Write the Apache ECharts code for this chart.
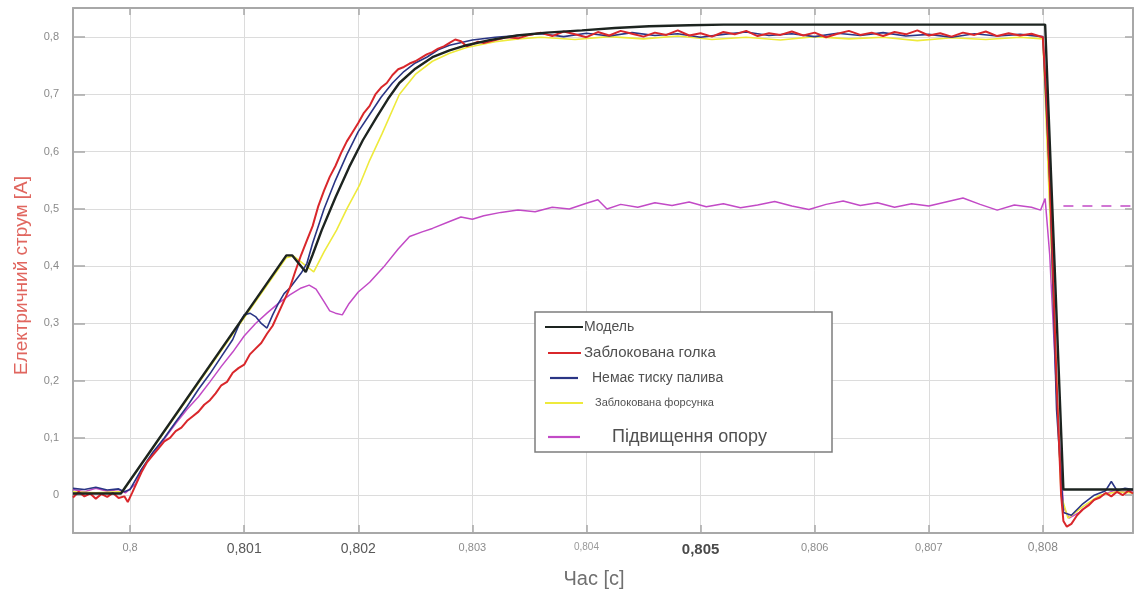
<!DOCTYPE html>
<html><head><meta charset="utf-8">
<script src="https://cdn.jsdelivr.net/npm/echarts@6/dist/echarts.min.js"></script>
<style>html,body{margin:0;padding:0;background:#fff}#c{width:1135px;height:595px}</style>
</head><body><div id="c"></div>
<script>
// ---------------- DATA ----------------
const xTickValues = [0.8, 0.801, 0.802, 0.803, 0.804, 0.805, 0.806, 0.807, 0.808];
const xTickLabels = ['0,8', '0,801', '0,802', '0,803', '0,804', '0,805', '0,806', '0,807', '0,808'];
const yTickValues = [0, 0.1, 0.2, 0.3, 0.4, 0.5, 0.6, 0.7, 0.8];
const yTickLabels = ['0', '0,1', '0,2', '0,3', '0,4', '0,5', '0,6', '0,7', '0,8'];
const seriesNames = ['Модель', 'Заблокована голка', 'Немає тиску палива', 'Заблокована форсунка', 'Підвищення опору'];
const xTitle = 'Час [с]';
const yTitle = 'Електричний струм [А]';

const modelData = [
  [0.79950,0.003],[0.79992,0.003],[0.80137,0.419],[0.80142,0.419],[0.80154,0.390],[0.80160,0.420],
  [0.80168,0.463],[0.80180,0.520],[0.80192,0.573],[0.80204,0.620],[0.80216,0.660],[0.80226,0.692],
  [0.80236,0.720],[0.80250,0.745],[0.80265,0.765],[0.80280,0.777],[0.80295,0.786],[0.80315,0.795],
  [0.80339,0.803],[0.80365,0.808],[0.80396,0.812],[0.80425,0.816],[0.80455,0.819],[0.80490,0.821],
  [0.80520,0.822],[0.80802,0.822],[0.80818,0.010],[0.80879,0.010]
];

const needleData = [
  [0.79950,-0.004],[0.79955,0.006],[0.79960,-0.002],[0.79965,0.003],[0.79970,-0.006],[0.79975,0.002],
  [0.79980,-0.003],[0.79985,0.004],[0.79990,-0.005],[0.79995,-0.002],[0.79998,-0.012],[0.80002,0.005],
  [0.80005,0.018],[0.80010,0.040],[0.80015,0.058],[0.80020,0.070],[0.80025,0.082],[0.80030,0.094],
  [0.80035,0.100],[0.80040,0.112],[0.80045,0.118],[0.80050,0.130],[0.80055,0.138],[0.80060,0.146],
  [0.80065,0.158],[0.80070,0.166],[0.80075,0.178],[0.80080,0.192],[0.80085,0.198],[0.80090,0.214],
  [0.80095,0.222],[0.80100,0.228],[0.80105,0.246],[0.80110,0.256],[0.80115,0.266],[0.80120,0.282],
  [0.80125,0.296],[0.80130,0.318],[0.80135,0.340],[0.80140,0.362],[0.80145,0.392],[0.80150,0.420],
  [0.80155,0.445],[0.80160,0.470],[0.80165,0.505],[0.80170,0.532],[0.80175,0.556],[0.80180,0.575],
  [0.80185,0.598],[0.80190,0.618],[0.80195,0.634],[0.80200,0.650],[0.80205,0.668],[0.80210,0.680],
  [0.80215,0.700],[0.80220,0.712],[0.80225,0.720],[0.80230,0.734],[0.80235,0.744],[0.80240,0.748],
  [0.80245,0.754],[0.80250,0.758],[0.80255,0.764],[0.80260,0.770],[0.80265,0.774],[0.80270,0.780],
  [0.80275,0.784],[0.80280,0.790],[0.80285,0.796],[0.80290,0.793],[0.80295,0.784],[0.80300,0.788],
  [0.80305,0.792],[0.80310,0.790],[0.80320,0.795],[0.80330,0.800],[0.80340,0.798],[0.80350,0.804],
  [0.80360,0.808],[0.80370,0.802],[0.80380,0.810],[0.80390,0.805],[0.80400,0.800],[0.80410,0.809],
  [0.80420,0.803],[0.80430,0.811],[0.80440,0.806],[0.80450,0.801],[0.80460,0.808],[0.80470,0.804],
  [0.80480,0.812],[0.80490,0.803],[0.80500,0.807],[0.80510,0.801],[0.80520,0.809],[0.80530,0.805],
  [0.80540,0.811],[0.80550,0.802],[0.80560,0.807],[0.80570,0.804],[0.80580,0.810],[0.80590,0.803],
  [0.80600,0.808],[0.80610,0.800],[0.80620,0.806],[0.80630,0.811],[0.80640,0.804],[0.80650,0.808],
  [0.80660,0.802],[0.80670,0.809],[0.80680,0.805],[0.80690,0.812],[0.80700,0.803],[0.80710,0.807],
  [0.80720,0.801],[0.80730,0.808],[0.80740,0.804],[0.80750,0.810],[0.80760,0.802],[0.80770,0.807],
  [0.80780,0.803],[0.80790,0.806],[0.80800,0.800],[0.80803,0.700],[0.80808,0.450],[0.80812,0.200],
  [0.80816,0.000],[0.80818,-0.045],[0.80821,-0.055],[0.80825,-0.050],[0.80830,-0.035],[0.80835,-0.025],
  [0.80840,-0.018],[0.80845,-0.008],[0.80850,-0.004],[0.80855,0.004],[0.80860,-0.002],[0.80865,0.006],
  [0.80870,0.000],[0.80875,0.008],[0.80879,0.003]
];

const noPressureData = [
  [0.79950,0.012],[0.79960,0.010],[0.79970,0.014],[0.79980,0.009],[0.79990,0.011],[0.79995,0.006],
  [0.80000,0.010],[0.80010,0.045],[0.80020,0.075],[0.80030,0.100],[0.80040,0.128],[0.80050,0.155],
  [0.80060,0.185],[0.80070,0.212],[0.80080,0.242],[0.80090,0.272],[0.80097,0.305],[0.80100,0.315],
  [0.80105,0.318],[0.80110,0.312],[0.80115,0.300],[0.80120,0.292],[0.80125,0.315],[0.80130,0.335],
  [0.80135,0.352],[0.80140,0.362],[0.80145,0.375],[0.80150,0.388],[0.80155,0.405],[0.80160,0.440],
  [0.80170,0.500],[0.80180,0.550],[0.80190,0.595],[0.80200,0.635],[0.80210,0.665],[0.80220,0.695],
  [0.80230,0.720],[0.80240,0.740],[0.80250,0.755],[0.80260,0.765],[0.80270,0.778],[0.80280,0.786],
  [0.80300,0.795],[0.80320,0.800],[0.80340,0.803],[0.80360,0.806],[0.80380,0.801],[0.80400,0.807],
  [0.80420,0.802],[0.80440,0.808],[0.80460,0.803],[0.80480,0.806],[0.80500,0.800],[0.80520,0.805],
  [0.80540,0.809],[0.80560,0.803],[0.80580,0.806],[0.80600,0.801],[0.80620,0.807],[0.80640,0.803],
  [0.80660,0.808],[0.80680,0.802],[0.80700,0.805],[0.80720,0.800],[0.80740,0.806],[0.80760,0.802],
  [0.80780,0.805],[0.80800,0.801],[0.80806,0.550],[0.80812,0.150],[0.80818,-0.030],[0.80825,-0.035],
  [0.80835,-0.015],[0.80845,0.000],[0.80855,0.008],[0.80860,0.024],[0.80865,0.008],[0.80872,0.012],
  [0.80879,0.010]
];

const injectorData = [
  [0.79950,0.006],[0.79970,0.004],[0.79990,0.006],[0.79993,0.005],[0.80137,0.415],[0.80143,0.418],
  [0.80161,0.390],[0.80170,0.425],[0.80181,0.463],[0.80190,0.500],[0.80201,0.541],[0.80210,0.585],
  [0.80221,0.632],[0.80236,0.700],[0.80250,0.735],[0.80265,0.758],[0.80280,0.772],[0.80295,0.782],
  [0.80320,0.792],[0.80340,0.797],[0.80360,0.800],[0.80390,0.796],[0.80420,0.801],[0.80450,0.797],
  [0.80480,0.802],[0.80510,0.796],[0.80540,0.800],[0.80570,0.795],[0.80600,0.801],[0.80630,0.797],
  [0.80660,0.800],[0.80690,0.794],[0.80720,0.799],[0.80750,0.796],[0.80780,0.800],[0.80800,0.797],
  [0.80808,0.400],[0.80816,0.000],[0.80822,-0.040],[0.80835,-0.020],[0.80850,0.000],[0.80865,0.006],
  [0.80879,0.004]
];

const resistanceData = [
  [0.79950,0.010],[0.79960,0.006],[0.79970,0.012],[0.79980,0.007],[0.79990,0.010],[0.79996,0.004],
  [0.80005,0.020],[0.80010,0.045],[0.80020,0.072],[0.80030,0.098],[0.80040,0.125],[0.80050,0.150],
  [0.80060,0.172],[0.80070,0.198],[0.80080,0.225],[0.80090,0.250],[0.80100,0.278],[0.80110,0.300],
  [0.80120,0.318],[0.80130,0.335],[0.80140,0.350],[0.80150,0.362],[0.80157,0.367],[0.80163,0.360],
  [0.80170,0.338],[0.80175,0.322],[0.80180,0.318],[0.80186,0.315],[0.80192,0.335],[0.80200,0.355],
  [0.80210,0.372],[0.80222,0.398],[0.80235,0.430],[0.80245,0.452],[0.80256,0.460],[0.80265,0.466],
  [0.80280,0.478],[0.80290,0.486],[0.80300,0.482],[0.80310,0.488],[0.80325,0.494],[0.80340,0.498],
  [0.80355,0.495],[0.80370,0.503],[0.80385,0.500],[0.80400,0.510],[0.80410,0.516],[0.80418,0.500],
  [0.80430,0.508],[0.80445,0.503],[0.80460,0.511],[0.80475,0.506],[0.80490,0.512],[0.80505,0.504],
  [0.80520,0.509],[0.80535,0.502],[0.80550,0.507],[0.80565,0.513],[0.80580,0.505],[0.80595,0.499],
  [0.80610,0.508],[0.80625,0.514],[0.80640,0.506],[0.80655,0.511],[0.80670,0.503],[0.80685,0.509],
  [0.80700,0.505],[0.80715,0.512],[0.80730,0.519],[0.80745,0.508],[0.80760,0.498],[0.80775,0.507],
  [0.80790,0.503],[0.80798,0.498],[0.80802,0.518],[0.80806,0.420],[0.80812,0.180],[0.80818,-0.020],
  [0.80823,-0.040],[0.80832,-0.030],[0.80842,-0.012],[0.80852,0.000],[0.80862,0.008],[0.80872,0.005],
  [0.80879,0.008]
];

const resistanceTail = [[0.80818,0.505],[0.80879,0.505]];

// ---------------- STYLE ----------------
const colors = ['#1d2420', '#d9272b', '#2a3585', '#eeea3c', '#c24ac6'];
const lineWidths = [2.4, 2, 1.6, 1.6, 1.5];
const FONT = 'Liberation Sans, Arial, sans-serif';
const xLabelStyleKeys = ['s', 'b', 'b', 's', 'xs', 'bb', 's', 's', 'm'];

function findIdx(arr, v) { return arr.findIndex(t => Math.abs(t - v) < 1e-7); }

const chart = echarts.init(document.getElementById('c'), null, {renderer: 'canvas'});

const frameColor = '#a8a8a8';

const legendBox = {x: 535, y: 312, w: 297, h: 140};
const legendRows = [
  {y: 327, x1: 545, x2: 583, tx: 584, fs: 14},
  {y: 353, x1: 548, x2: 581, tx: 584, fs: 15},
  {y: 378, x1: 550, x2: 578, tx: 592, fs: 14},
  {y: 403, x1: 545, x2: 583, tx: 595, fs: 11},
  {y: 437, x1: 548, x2: 580, tx: 612, fs: 18}
];
const graphics = [{
  type: 'rect', z: 100,
  shape: {x: legendBox.x, y: legendBox.y, width: legendBox.w, height: legendBox.h},
  style: {fill: '#fff', stroke: '#7d7d7d', lineWidth: 1.5}
}];
legendRows.forEach((r, i) => {
  graphics.push({type: 'line', z: 101, shape: {x1: r.x1, y1: r.y, x2: r.x2, y2: r.y},
    style: {stroke: colors[i], lineWidth: 2.2}});
  graphics.push({type: 'text', z: 101, x: r.tx, y: r.y,
    style: {text: seriesNames[i], fontSize: r.fs, fontFamily: FONT, fill: '#505050',
      verticalAlign: 'middle', align: 'left'}});
});

const mk = (name, data, i, z) => ({
  name, type: 'line', data, showSymbol: false, symbol: 'none', z,
  lineStyle: {color: colors[i], width: lineWidths[i]}, itemStyle: {color: colors[i]},
  animation: false
});

const option = {
  animation: false,
  backgroundColor: '#fff',
  grid: {left: 73, right: 2, top: 8, bottom: 62, containLabel: false},
  xAxis: [{
    type: 'value', min: 0.7995, max: 0.80879, splitNumber: 9,
    name: xTitle, nameLocation: 'middle', nameGap: 36,
    nameTextStyle: {fontSize: 20, color: '#707070', fontFamily: FONT, padding: [0, 18, 0, 0]},
    axisLine: {show: true, onZero: false, lineStyle: {color: frameColor, width: 2}},
    axisTick: {show: true, inside: true, length: 8, lineStyle: {color: frameColor, width: 1.5}},
    splitLine: {show: true, lineStyle: {color: '#dcdcdc', width: 1}},
    axisLabel: {
      showMinLabel: false, showMaxLabel: false, margin: 9,
      formatter: v => { const i = findIdx(xTickValues, v); return i < 0 ? '' : '{' + xLabelStyleKeys[i] + '|' + xTickLabels[i] + '}'; },
      rich: {
        s: {fontSize: 11, color: '#8c8c8c', fontFamily: FONT},
        xs: {fontSize: 10, color: '#9a9a9a', fontFamily: FONT},
        m: {fontSize: 12, color: '#888', fontFamily: FONT},
        b: {fontSize: 14, color: '#585858', fontFamily: FONT},
        bb: {fontSize: 15, color: '#4a4a4a', fontFamily: FONT, fontWeight: 'bold'}
      }
    }
  }, {
    type: 'value', position: 'top', min: 0.7995, max: 0.80879, splitNumber: 9,
    axisLine: {show: true, onZero: false, lineStyle: {color: frameColor, width: 2}},
    axisTick: {show: true, inside: true, length: 7, lineStyle: {color: frameColor, width: 1.5}},
    axisLabel: {show: false}, splitLine: {show: false}
  }],
  yAxis: [{
    type: 'value', min: -0.066, max: 0.851, splitNumber: 9,
    name: yTitle, nameLocation: 'middle', nameGap: 42, nameRotate: 90,
    nameTextStyle: {fontSize: 19, color: '#e0665f', fontFamily: FONT, padding: [0, 10, 0, 0]},
    axisLine: {show: true, onZero: false, lineStyle: {color: frameColor, width: 2}},
    axisTick: {show: true, inside: true, length: 12, lineStyle: {color: frameColor, width: 1.5}},
    splitLine: {show: true, lineStyle: {color: '#dcdcdc', width: 1}},
    axisLabel: {
      showMinLabel: false, showMaxLabel: false, margin: 14,
      fontSize: 11, color: '#8a8a8a', fontFamily: FONT,
      formatter: v => { const i = findIdx(yTickValues, v); return i < 0 ? '' : yTickLabels[i]; }
    }
  }, {
    type: 'value', position: 'right', min: -0.066, max: 0.851, splitNumber: 9,
    axisLine: {show: true, onZero: false, lineStyle: {color: frameColor, width: 2}},
    axisTick: {show: true, inside: true, length: 8, lineStyle: {color: frameColor, width: 1.5}},
    axisLabel: {show: false}, splitLine: {show: false}
  }],
  series: [
    mk(seriesNames[4], resistanceData, 4, 2),
    Object.assign(mk(seriesNames[4], resistanceTail, 4, 2), {lineStyle: {color: colors[4], width: 1.5, type: [10, 9]}}),
    mk(seriesNames[3], injectorData, 3, 3),
    mk(seriesNames[2], noPressureData, 2, 4),
    mk(seriesNames[1], needleData, 1, 5),
    mk(seriesNames[0], modelData, 0, 6)
  ],
  graphic: graphics
};
chart.setOption(option);
</script></body></html>
